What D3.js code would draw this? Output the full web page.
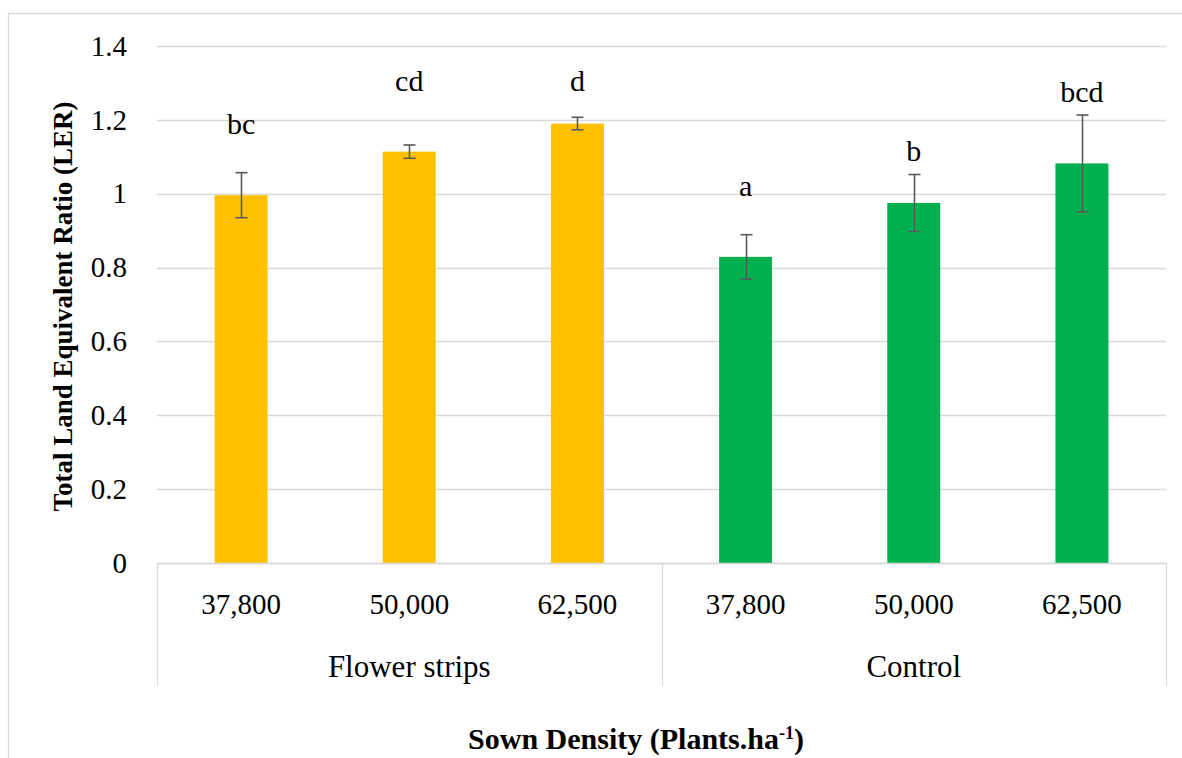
<!DOCTYPE html>
<html>
<head>
<meta charset="utf-8">
<script src="https://cdn.jsdelivr.net/npm/d3@7"></script>
<style>
  body { margin: 0; background: #fff; }
  text { font-family: "Liberation Serif", "Times New Roman", serif; fill: #000; }
</style>
</head>
<body>
<script>
'use strict';

// chart values
const groups = ["Flower strips", "Control"];
const densities = ["37,800", "50,000", "62,500"];
const flowerValues = [0.996, 1.114, 1.190];
const flowerErrors = [0.061, 0.018, 0.017];
const flowerLetters = ["bc", "cd", "d"];
const flowerLetterLevel = [1.187, 1.303, 1.303];
const controlValues = [0.829, 0.975, 1.082];
const controlErrors = [0.060, 0.077, 0.131];
const controlLetters = ["a", "b", "bcd"];
const controlLetterLevel = [1.02, 1.115, 1.273];
const yTicks = [0, 0.2, 0.4, 0.6, 0.8, 1, 1.2, 1.4];
const groupColors = ["#FFC000", "#00B050"];

(function() {
  const W = 1182, H = 758;
  const left = 157, right = 1166, top = 46, bottom = 563;
  const serif = '"Liberation Serif", "Times New Roman", serif';

  // flat list of bars, built from the arrays above
  let rows = [];
  groups.forEach((g, gi) => {
    let vals = gi === 0 ? flowerValues : controlValues;
    let errs = gi === 0 ? flowerErrors : controlErrors;
    let lets = gi === 0 ? flowerLetters : controlLetters;
    let lvl = gi === 0 ? flowerLetterLevel : controlLetterLevel;
    densities.forEach((d, di) => {
      rows.push({ key: g + "|" + d, group: gi, density: d, value: vals[di],
                  err: errs[di], letter: lets[di], letterY: lvl[di] });
    });
  });

  let svg = d3.select('body').append('svg')
    .attr('width', W)
    .attr('height', H);

  // outer chart frame (right/bottom edges fall outside the picture)
  svg.append('rect')
    .attr('x', 8.5).attr('y', 13.5)
    .attr('width', W + 10).attr('height', H + 10)
    .attr('fill', 'none')
    .attr('stroke', '#d9d9d9')
    .attr('stroke-width', 1.3);

  let x = d3.scaleBand()
    .domain(rows.map(r => r.key))
    .range([left, right])
    .paddingInner(0.685)
    .paddingOuter(0.3425);

  let y = d3.scaleLinear()
    .domain([0, 1.4])
    .range([bottom, top]);

  // gridlines
  svg.append('g')
    .selectAll('line')
    .data(yTicks)
    .enter()
    .append('line')
      .attr('x1', left)
      .attr('x2', right)
      .attr('y1', d => Math.round(y(d)) + 0.5)
      .attr('y2', d => Math.round(y(d)) + 0.5)
      .attr('stroke', '#d9d9d9')
      .attr('stroke-width', 1.3);

  // y axis tick labels
  let yAxis = d3.axisLeft(y)
    .tickValues(yTicks)
    .tickSize(0)
    .tickPadding(0)
    .tickFormat(d => d3.format('')(d));
  let ya = svg.append('g')
    .attr('transform', 'translate(127,0)')
    .call(yAxis)
    .attr('font-family', serif)
    .attr('font-size', 29);
  ya.select('.domain').remove();
  ya.selectAll('text')
    .style('font-family', serif)
    .style('font-size', '29px')
    .attr('fill', '#000');

  // bars
  svg.append('g')
    .selectAll('rect')
    .data(rows)
    .enter()
    .append('rect')
      .attr('x', d => x(d.key))
      .attr('y', d => y(d.value))
      .attr('width', x.bandwidth())
      .attr('height', d => y(0) - y(d.value))
      .attr('fill', d => groupColors[d.group]);

  // error bars
  let eb = svg.append('g')
    .attr('stroke', '#5a5a5a')
    .attr('stroke-width', 1.6);
  rows.forEach(r => {
    let cx = Math.round(x(r.key) + x.bandwidth() / 2) + 0.5;
    let y1 = y(r.value + r.err), y2 = y(r.value - r.err);
    eb.append('line').attr('x1', cx).attr('x2', cx).attr('y1', y1).attr('y2', y2);
    eb.append('line').attr('x1', cx - 6).attr('x2', cx + 6).attr('y1', y1).attr('y2', y1);
    eb.append('line').attr('x1', cx - 6).attr('x2', cx + 6).attr('y1', y2).attr('y2', y2);
  });

  // significance letters
  svg.append('g')
    .selectAll('text')
    .data(rows)
    .enter()
    .append('text')
      .attr('x', d => x(d.key) + x.bandwidth() / 2)
      .attr('y', d => y(d.letterY))
      .attr('dy', '0.32em')
      .attr('text-anchor', 'middle')
      .style('font-family', serif)
      .style('font-size', '30px')
      .text(d => d.letter);

  // category axis: baseline + group separators
  let cat = svg.append('g')
    .attr('stroke', '#d9d9d9')
    .attr('stroke-width', 1.3);
  cat.append('line')
    .attr('x1', left).attr('x2', right)
    .attr('y1', bottom + 0.5).attr('y2', bottom + 0.5);
  let groupEdges = [0, 3, 6].map(i => i < rows.length ? x(rows[i].key) - x.step() * x.paddingInner() / 2 : right);
  groupEdges.forEach(gx => {
    cat.append('line')
      .attr('x1', Math.round(gx) + 0.5).attr('x2', Math.round(gx) + 0.5)
      .attr('y1', bottom).attr('y2', 686);
  });

  // density labels
  let xAxis = d3.axisBottom(x)
    .tickSize(0)
    .tickPadding(0)
    .tickFormat(k => k.split('|')[1]);
  let xa = svg.append('g')
    .attr('transform', 'translate(0,' + bottom + ')')
    .call(xAxis)
    .attr('font-family', serif)
    .attr('font-size', 29);
  xa.select('.domain').remove();
  xa.selectAll('text')
    .attr('y', 42)
    .attr('dy', '0.32em')
    .style('font-family', serif)
    .style('font-size', '29px')
    .attr('fill', '#000');

  // group labels
  svg.append('g')
    .selectAll('text')
    .data(groups)
    .enter()
    .append('text')
      .attr('x', (g, i) => (groupEdges[i] + groupEdges[i + 1]) / 2)
      .attr('y', 667)
      .attr('dy', '0.32em')
      .attr('text-anchor', 'middle')
      .style('font-family', serif)
      .style('font-size', '31px')
      .text(g => g);

  // axis titles
  svg.append('text')
    .attr('transform', 'translate(63,' + ((top + bottom) / 2 + 2) + ')rotate(-90)')
    .attr('text-anchor', 'middle')
    .attr('dy', '0.35em')
    .style('font-family', serif)
    .style('font-size', '27px')
    .style('font-weight', 'bold')
    .text('Total Land Equivalent Ratio (LER)');

  let xt = svg.append('text')
    .attr('x', 636)
    .attr('y', 749)
    .attr('text-anchor', 'middle')
    .style('font-family', serif)
    .style('font-size', '30px')
    .style('font-weight', 'bold');
  xt.append('tspan').text('Sown Density (Plants.ha');
  xt.append('tspan').attr('dy', -10).style('font-size', '18px').text('-1');
  xt.append('tspan').attr('dy', 10).text(')');
})();
</script>
</body>
</html>
